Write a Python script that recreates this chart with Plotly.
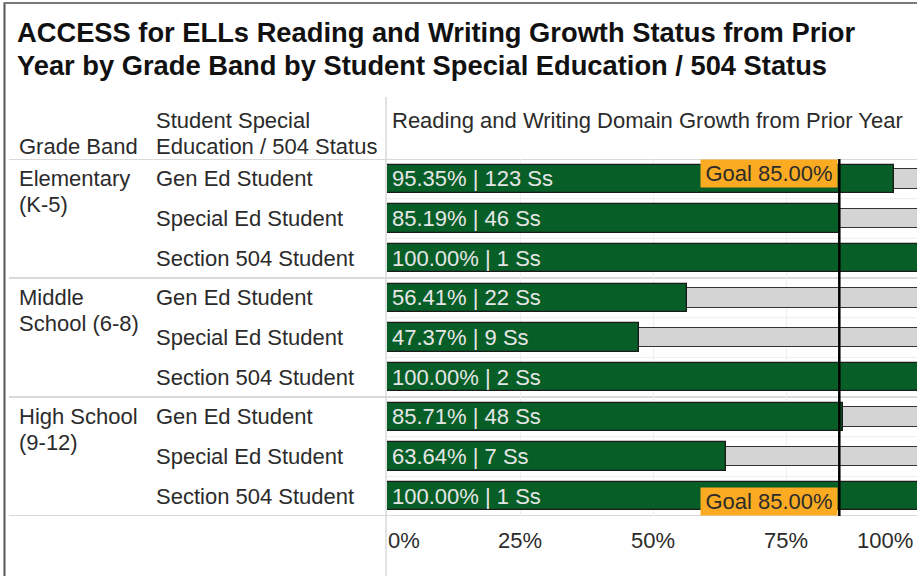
import plotly.graph_objects as go

# ---------------- data ----------------
grade_bands = [["Elementary", "(K-5)"], ["Middle", "School (6-8)"], ["High School", "(9-12)"]]
statuses = ["Gen Ed Student", "Special Ed Student", "Section 504 Student"]
pct_growth = [95.35, 85.19, 100.00, 56.41, 47.37, 100.00, 85.71, 63.64, 100.00]
student_counts = [123, 46, 1, 22, 9, 2, 48, 7, 1]
goal_pct = 85.00
tick_values = [0, 25, 50, 75, 100]
tick_labels = ["0%", "25%", "50%", "75%", "100%"]

title_lines = ["ACCESS for ELLs Reading and Writing Growth Status from Prior",
               "Year by Grade Band by Student Special Education / 504 Status"]
header_grade = "Grade Band"
header_status = ["Student Special", "Education / 504 Status"]
header_measure = "Reading and Writing Domain Growth from Prior Year"

# ---------------- layout helpers ----------------
W, H = 917, 576
FONT = "Liberation Sans, Arial, sans-serif"
GREEN = "#075e26"
GRAY = "#d4d4d4"
ORANGE = "#fbab22"
TXT = "#2b2b2b"
SEP = "#d9d9d9"

PLOT_L, PLOT_R, PLOT_T, PLOT_B = 387, 917, 159, 516
X_MAX = 0.996


def px(x):
    return x / W


def py(y):
    return 1 - y / H


n_rows = len(pct_growth)
rows = list(range(n_rows))
row_status = [statuses[i % 3] for i in rows]
bar_labels = [f"{v:.2f}% | {c} Ss" for v, c in zip(pct_growth, student_counts)]

fig = go.Figure()

# background (gray) bars to 100%
fig.add_trace(go.Bar(
    x=[1.0] * n_rows, y=rows, orientation="h", width=0.5,
    marker=dict(color=GRAY, line=dict(color="#333333", width=1)),
    hoverinfo="skip", showlegend=False))

# growth bars
fig.add_trace(go.Bar(
    x=[v / 100 for v in pct_growth], y=rows, orientation="h", width=0.71,
    marker=dict(color=GREEN, line=dict(color="#1a1a1a", width=1.3)),
    showlegend=False))

annotations = []
shapes = []


def txt(x, y, text, xref="paper", yref="paper", size=22, color=TXT, **kw):
    d = dict(xref=xref, yref=yref, x=x, y=y, xanchor="left", yanchor="middle",
             text=text, showarrow=False, font=dict(family=FONT, size=size, color=color))
    d.update(kw)
    annotations.append(d)


# title
for i, line in enumerate(title_lines):
    txt(px(15), py(33 + 32 * i), f"<b>{line}</b>", size=27.3, color="#111111")

# headers
txt(px(17), py(146), header_grade)
for i, line in enumerate(header_status):
    txt(px(154), py(121 + 25 * i), line)
txt(px(390), py(121), header_measure)

# grade band labels (two lines each)
for g, lines in enumerate(grade_bands):
    for i, line in enumerate(lines):
        txt(px(17), 3 * g, line, yref="y", yshift=-26 * i)

# status labels
for r, s in zip(rows, row_status):
    txt(px(154), r, s, yref="y")

# bar value labels
for r, lab in zip(rows, bar_labels):
    txt(0, r, lab, xref="x", yref="y", xshift=3, color="#e6e6e6")

# goal labels
goal = goal_pct / 100
for yv, ya in [(-0.5, "top"), (n_rows - 0.5, "bottom")]:
    txt(goal, yv, f"Goal {goal_pct:.2f}%", xref="x", yref="y", xanchor="right",
        yanchor=ya, xshift=-1, bgcolor=ORANGE, borderpad=1, width=134, align="center")

# axis tick labels
for v, lab in zip(tick_values, tick_labels):
    if v == tick_values[0]:
        txt(v / 100, py(540), lab, xref="x", xshift=-1)
    elif v == tick_values[-1]:
        txt(1, py(540), lab, xanchor="right", xshift=-2)
    else:
        txt(v / 100, py(540), lab, xref="x", xanchor="center")

# faint row separators inside plot
for r in rows[:-1]:
    if (r + 1) % 3 != 0:
        shapes.append(dict(type="line", xref="paper", yref="y", x0=px(PLOT_L), x1=1,
                           y0=r + 0.5, y1=r + 0.5, line=dict(color="#ececec", width=1),
                           layer="below"))

# group separators
for yb in [-0.5, 2.5, 5.5, 8.5]:
    shapes.append(dict(type="line", xref="paper", yref="y", x0=px(9), x1=1,
                       y0=yb, y1=yb, line=dict(color=SEP, width=2), layer="below"))

# vertical separator
shapes.append(dict(type="line", xref="paper", yref="paper", x0=px(386), x1=px(386),
                   y0=py(97), y1=0, line=dict(color=SEP, width=1.5), layer="below"))

# goal line
shapes.append(dict(type="line", xref="x", yref="y", x0=goal, x1=goal, y0=-0.5,
                   y1=n_rows - 0.5, line=dict(color="#000000", width=2.5), layer="above"))

# frame border
shapes.append(dict(type="line", xref="paper", yref="paper", x0=px(4.5), x1=px(4.5),
                   y0=py(3), y1=0, line=dict(color="#555555", width=2)))
shapes.append(dict(type="line", xref="paper", yref="paper", x0=px(3.5), x1=1,
                   y0=py(3), y1=py(3), line=dict(color="#7a7a7a", width=2)))

fig.update_layout(
    width=W, height=H,
    margin=dict(l=0, r=0, t=0, b=0),
    paper_bgcolor="white", plot_bgcolor="white",
    barmode="overlay", bargap=0,
    showlegend=False,
    xaxis=dict(domain=[px(PLOT_L), 1], range=[0, X_MAX], tickvals=[0.25, 0.5, 0.75],
               showticklabels=False, showgrid=True, gridcolor="#efefef", gridwidth=1,
               zeroline=False, showline=False, fixedrange=True),
    yaxis=dict(domain=[py(PLOT_B), py(PLOT_T)], range=[n_rows - 0.5, -0.5],
               showticklabels=False, showgrid=False, zeroline=False, showline=False,
               fixedrange=True),
    annotations=annotations,
    shapes=shapes,
)

fig.write_html(
    "out.html",
    config={"displayModeBar": False},
    post_script="document.body.style.margin='0px';document.body.style.overflow='hidden';",
)
